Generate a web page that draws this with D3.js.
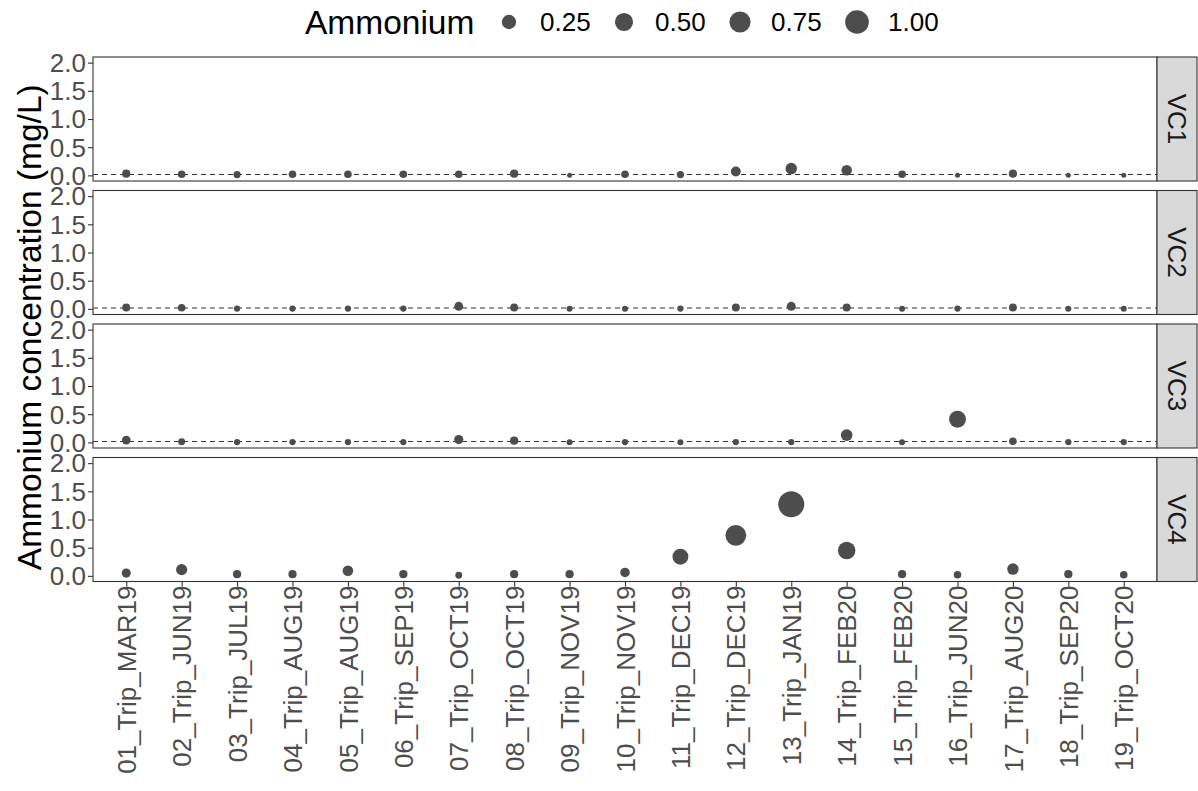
<!DOCTYPE html>
<html>
<head>
<meta charset="utf-8">
<script src="https://cdn.jsdelivr.net/npm/d3@7"></script>
<style>
  html, body { margin: 0; padding: 0; background: #ffffff; }
  svg { display: block; font-family: "Liberation Sans", Arial, sans-serif; }
</style>
</head>
<body>
<svg id="chart" width="1198" height="791"></svg>
<script>
// ---------------- DATA ----------------
const trips = ["01_Trip_MAR19","02_Trip_JUN19","03_Trip_JUL19","04_Trip_AUG19","05_Trip_AUG19",
  "06_Trip_SEP19","07_Trip_OCT19","08_Trip_OCT19","09_Trip_NOV19","10_Trip_NOV19",
  "11_Trip_DEC19","12_Trip_DEC19","13_Trip_JAN19","14_Trip_FEB20","15_Trip_FEB20",
  "16_Trip_JUN20","17_Trip_AUG20","18_Trip_SEP20","19_Trip_OCT20"];
const sites = ["VC1","VC2","VC3","VC4"];
const vc1 = [0.03,0.02,0.015,0.02,0.02,0.02,0.02,0.03,0.0,0.02,0.015,0.07,0.12,0.09,0.02,0.0,0.03,0.0,0.0];
const vc2 = [0.025,0.02,0.005,0.005,0.005,0.005,0.045,0.025,0.003,0.003,0.005,0.025,0.045,0.025,0.003,0.005,0.025,0.003,0.003];
const vc3 = [0.04,0.01,0.005,0.005,0.005,0.005,0.05,0.03,0.003,0.005,0.003,0.005,0.005,0.13,0.003,0.41,0.02,0.005,0.005];
const vc4 = [0.05,0.11,0.03,0.03,0.09,0.03,0.01,0.03,0.03,0.06,0.34,0.72,1.27,0.45,0.03,0.02,0.12,0.03,0.02];
const siteValues = [vc1, vc2, vc3, vc4];
const detectionLimit = [0.015, 0.015, 0.015, null];   // dashed reference line per panel
const yTicks = [0, 0.5, 1.0, 1.5, 2.0];
const legendValues = [0.25, 0.50, 0.75, 1.00];
const legendTitle = "Ammonium";
const yTitle = "Ammonium concentration (mg/L)";

// ---------------- LAYOUT ----------------
const svg = d3.select("#chart");
const panelL = 93, panelR = 1157, stripW = 40;
const panelTop0 = 57, panelH = 124, panelGap = 9.5;
const pointColor = "#4d4d4d";
const borderColor = "#333333";
const textGrey = "#4d4d4d";
const axisFont = 26, titleFont = 33.5;

const x = d3.scalePoint().domain(trips).range([panelL, panelR]).padding(0.6);

const allVals = siteValues.flat();
const vExt = d3.extent(allVals);
const sizeNorm = d3.scaleLinear().domain(vExt).range([0, 1]).clamp(true);
const sizeScale = d3.scalePow().exponent(0.5).domain([0, 1]).range([1, 6]);
const radius = v => 2.1 * sizeScale(sizeNorm(v)) + 0.4;

sites.forEach((site, i) => {
  const top = panelTop0 + i * (panelH + panelGap);
  const bottom = top + panelH;
  const y = d3.scaleLinear().domain([-0.1, 2.1]).range([bottom, top]);
  const g = svg.append("g");

  g.append("rect").attr("x", panelL).attr("y", top)
    .attr("width", panelR - panelL).attr("height", panelH)
    .attr("fill", "#ffffff");

  if (detectionLimit[i] !== null) {
    g.append("line")
      .attr("x1", panelL).attr("x2", panelR)
      .attr("y1", y(detectionLimit[i])).attr("y2", y(detectionLimit[i]))
      .attr("stroke", "#333333").attr("stroke-width", 1.1)
      .attr("stroke-dasharray", "5,4");
  }

  g.selectAll("circle.pt").data(siteValues[i].map((v, k) => ({trip: trips[k], v})))
    .enter().append("circle").attr("class", "pt")
    .attr("cx", d => x(d.trip))
    .attr("cy", d => y(d.v))
    .attr("r", d => radius(d.v))
    .attr("fill", pointColor);

  g.append("rect").attr("x", panelL).attr("y", top)
    .attr("width", panelR - panelL).attr("height", panelH)
    .attr("fill", "none").attr("stroke", borderColor).attr("stroke-width", 1.1);

  g.append("rect").attr("x", panelR).attr("y", top)
    .attr("width", stripW).attr("height", panelH)
    .attr("fill", "#d9d9d9").attr("stroke", borderColor).attr("stroke-width", 1.1);
  g.append("text")
    .attr("transform", `translate(${panelR + stripW / 2},${top + panelH / 2}) rotate(90)`)
    .attr("text-anchor", "middle").attr("dy", "0.35em")
    .attr("font-size", axisFont).attr("fill", "#1a1a1a")
    .text(site);

  const ya = g.append("g").attr("transform", `translate(${panelL},0)`)
    .call(d3.axisLeft(y).tickValues(yTicks).tickFormat(d3.format(".1f")).tickSize(5).tickPadding(2));
  ya.select(".domain").remove();
  ya.selectAll(".tick line").attr("stroke", borderColor).attr("stroke-width", 1.1);
  ya.selectAll(".tick text").attr("font-size", axisFont).attr("fill", textGrey)
    .attr("font-family", "Liberation Sans, Arial, sans-serif")
    .attr("dy", "0.34em");

  if (i === sites.length - 1) {
    const xa = g.append("g").attr("transform", `translate(0,${bottom})`)
      .call(d3.axisBottom(x).tickSize(5).tickPadding(3));
    xa.select(".domain").remove();
    xa.selectAll(".tick line").attr("stroke", borderColor).attr("stroke-width", 1.1);
    xa.selectAll(".tick text")
      .attr("font-size", axisFont).attr("fill", textGrey)
      .attr("font-family", "Liberation Sans, Arial, sans-serif")
      .attr("transform", "rotate(-90)")
      .attr("text-anchor", "end")
      .attr("x", -4).attr("y", 0).attr("dy", "0.35em");
  }
});

const panelsMid = (panelTop0 + panelTop0 + 4 * panelH + 3 * panelGap) / 2;
svg.append("text")
  .attr("transform", `translate(29,${panelsMid + 8}) rotate(-90)`)
  .attr("text-anchor", "middle").attr("dy", "0.35em")
  .attr("font-size", titleFont).attr("fill", "#000")
  .text(yTitle);

const lg = svg.append("g");
const legendY = 22;
lg.append("text").attr("x", 305).attr("y", legendY).attr("dy", "0.35em")
  .attr("font-size", titleFont).attr("fill", "#000").text(legendTitle);
const legendCx = [509, 624, 740, 857];
legendValues.forEach((v, k) => {
  lg.append("circle").attr("cx", legendCx[k]).attr("cy", legendY)
    .attr("r", radius(v)).attr("fill", pointColor);
  lg.append("text").attr("x", legendCx[k] + 31).attr("y", legendY).attr("dy", "0.35em")
    .attr("font-size", axisFont).attr("fill", "#000")
    .text(d3.format(".2f")(v));
});
</script>
</body>
</html>
